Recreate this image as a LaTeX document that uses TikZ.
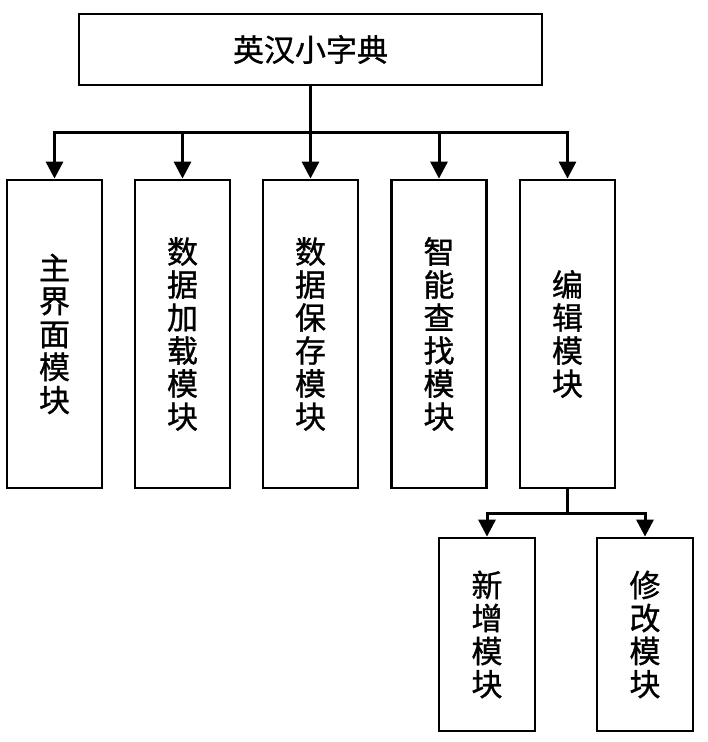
\documentclass[tikz,border=0pt]{standalone}
\usepackage{fontspec}
\newfontfamily\cjk[FakeBold=1]{Noto Sans CJK SC}
\usetikzlibrary{arrows.meta,calc,positioning}
\tikzset{>={Triangle[length=17pt,width=17pt]},
  every node/.style={font=\cjk\fontsize{31}{33}\selectfont},
  titlebox/.style={draw,line width=2.8pt,minimum width=463pt,minimum height=71pt,inner sep=0pt},
  modbox/.style={draw,line width=2.8pt,minimum width=95pt,minimum height=308pt,inner sep=0pt,align=center},
  subbox/.style={draw,line width=2.8pt,minimum width=96pt,minimum height=193pt,inner sep=0pt,align=center},
  link/.style={->,line width=3pt}}

\begin{document}
\begin{tikzpicture}[x=1pt,y=-1pt]
\path[use as bounding box] (0,0) rectangle (708,742);
\node[titlebox] (dict) at (310.5,49.5) {英汉小字典};
\coordinate (bus) at (310.5,132);
\foreach \n/\x/\t in {main/54.5/主\\界\\面\\模\\块, load/182.5/数\\据\\加\\载\\模\\块,
  save/310.5/数\\据\\保\\存\\模\\块, find/439/智\\能\\查\\找\\模\\块, edit/567.5/编\\辑\\模\\块}
  {\node[modbox] (\n) at (\x,334) {\t};
   \draw[link] (dict.south) -- (bus) -| (\n.north);}
\node[subbox] (add) at (487,634.5) {新\\增\\模\\块};\node[subbox] (modify) at (645,634.5) {修\\改\\模\\块};
\coordinate (fork) at (567.5,513);
\draw[link] (edit.south) -- (fork) -| (add.north);\draw[link] (edit.south) -- (fork) -| (modify.north);
\end{tikzpicture}
\end{document}
